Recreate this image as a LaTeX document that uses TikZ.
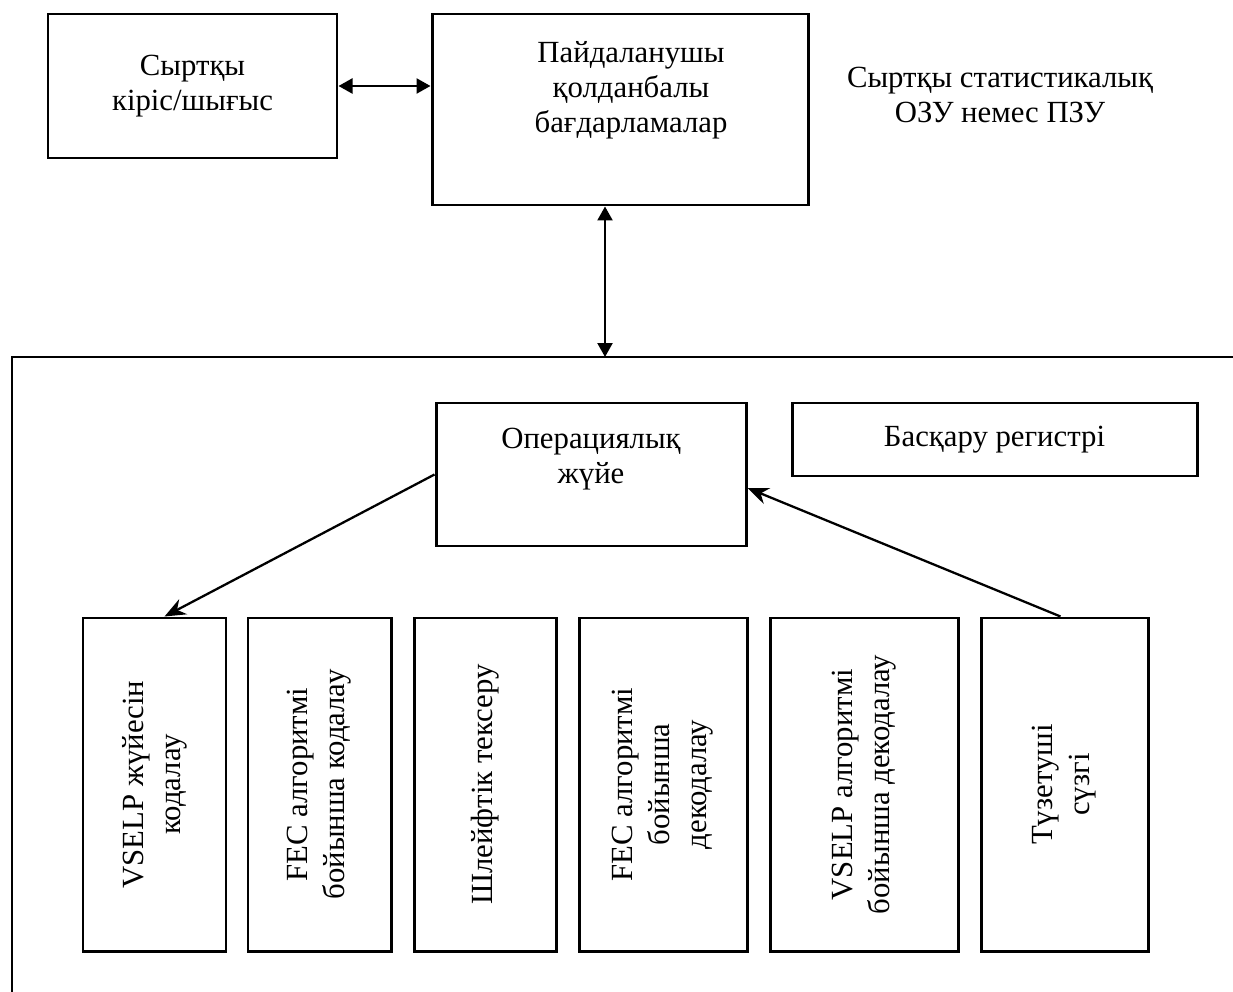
\documentclass[tikz,border=0pt]{standalone}
\usepackage{fontspec}
\setmainfont{Liberation Serif}
\usetikzlibrary{positioning,calc,arrows.meta}

\begin{document}
\begin{tikzpicture}[
	box/.style={
		draw, line width=1.7pt, align=center,
		font=\fontsize{17.5}{20}\selectfont,
	},
	vbox/.style={
		box, rotate=90, minimum width=6.66cm,
		font=\fontsize{17.5}{21}\selectfont,
	},
	txt/.style={align=center, font=\fontsize{17.5}{20}\selectfont},
	dbl/.style={line width=1.3pt,
		{Triangle[length=2.8mm,width=3mm]}-{Triangle[length=2.8mm,width=3mm]}},
	arr/.style={line width=1.3pt, -{Stealth[length=4.2mm,width=3.4mm]}},
	]
	\useasboundingbox (0,0) rectangle (24.66,-19.84);
	
	\node[box, minimum width=5.78cm, minimum height=2.88cm] (ext) at (3.85,-1.72) {Сыртқы\\кіріс/шығыс};
	\node[box, minimum width=7.52cm, minimum height=3.82cm] (app) at (12.4,-2.19) {};
	\node[txt] (apptxt) at ([shift={(0.22,-1.56)}]app.north) {Пайдаланушы\\қолданбалы\\бағдарламалар};
	\node[txt] (ram) at (20.0,-1.9) {Сыртқы статистикалық\\ОЗУ немес ПЗУ};
	
	% frame
	\coordinate (ftl) at (0.24,-7.14);
	\coordinate (hw) at (12.1,-7.14);
	\draw[line width=1.7pt] (24.66,-7.14) -- (ftl) -- (0.24,-19.84);
	
	\node[box, minimum width=6.2cm, minimum height=2.86cm] (op) at (11.82,-9.49) {};
	\node[txt] (optxt) at ([yshift=-1.15cm]op.north) {Операциялық\\жүйе};
	\node[box, minimum width=8.1cm, minimum height=1.46cm] (reg) at (19.89,-8.79) {Басқару регистрі};
	
	\node[vbox, minimum height=2.86cm] (vA) at (3.09,-15.69) {VSELP жүйесін\\кодалау};
	\node[vbox, minimum height=2.86cm] (vB) at (6.39,-15.69) {FEC алгоритмі\\бойынша кодалау};
	\node[vbox, minimum height=2.84cm] (vC) at (9.70,-15.69) {Шлейфтік тексеру};
	\node[vbox, minimum height=3.36cm] (vD) at (13.26,-15.69) {FEC алгоритмі\\бойынша\\декодалау};
	\node[vbox, minimum height=3.76cm] (vE) at (17.28,-15.69) {VSELP алгоритмі\\бойынша декодалау};
	\node[vbox, minimum height=3.34cm] (vF) at (21.29,-15.69) {Түзетуші\\сүзгі};
	
	\draw[dbl] (ext.east) -- (ext.east -| app.west);
	\draw[dbl] (app.south -| hw) -- (hw);
	\draw[arr] (op.west) -- ($(vA.east)+(0.2,0)$);
	\draw[arr] ($(vF.east)+(-0.08,0)$) -- ($(op.east)+(0,-0.27)$);
\end{tikzpicture}
\end{document}
